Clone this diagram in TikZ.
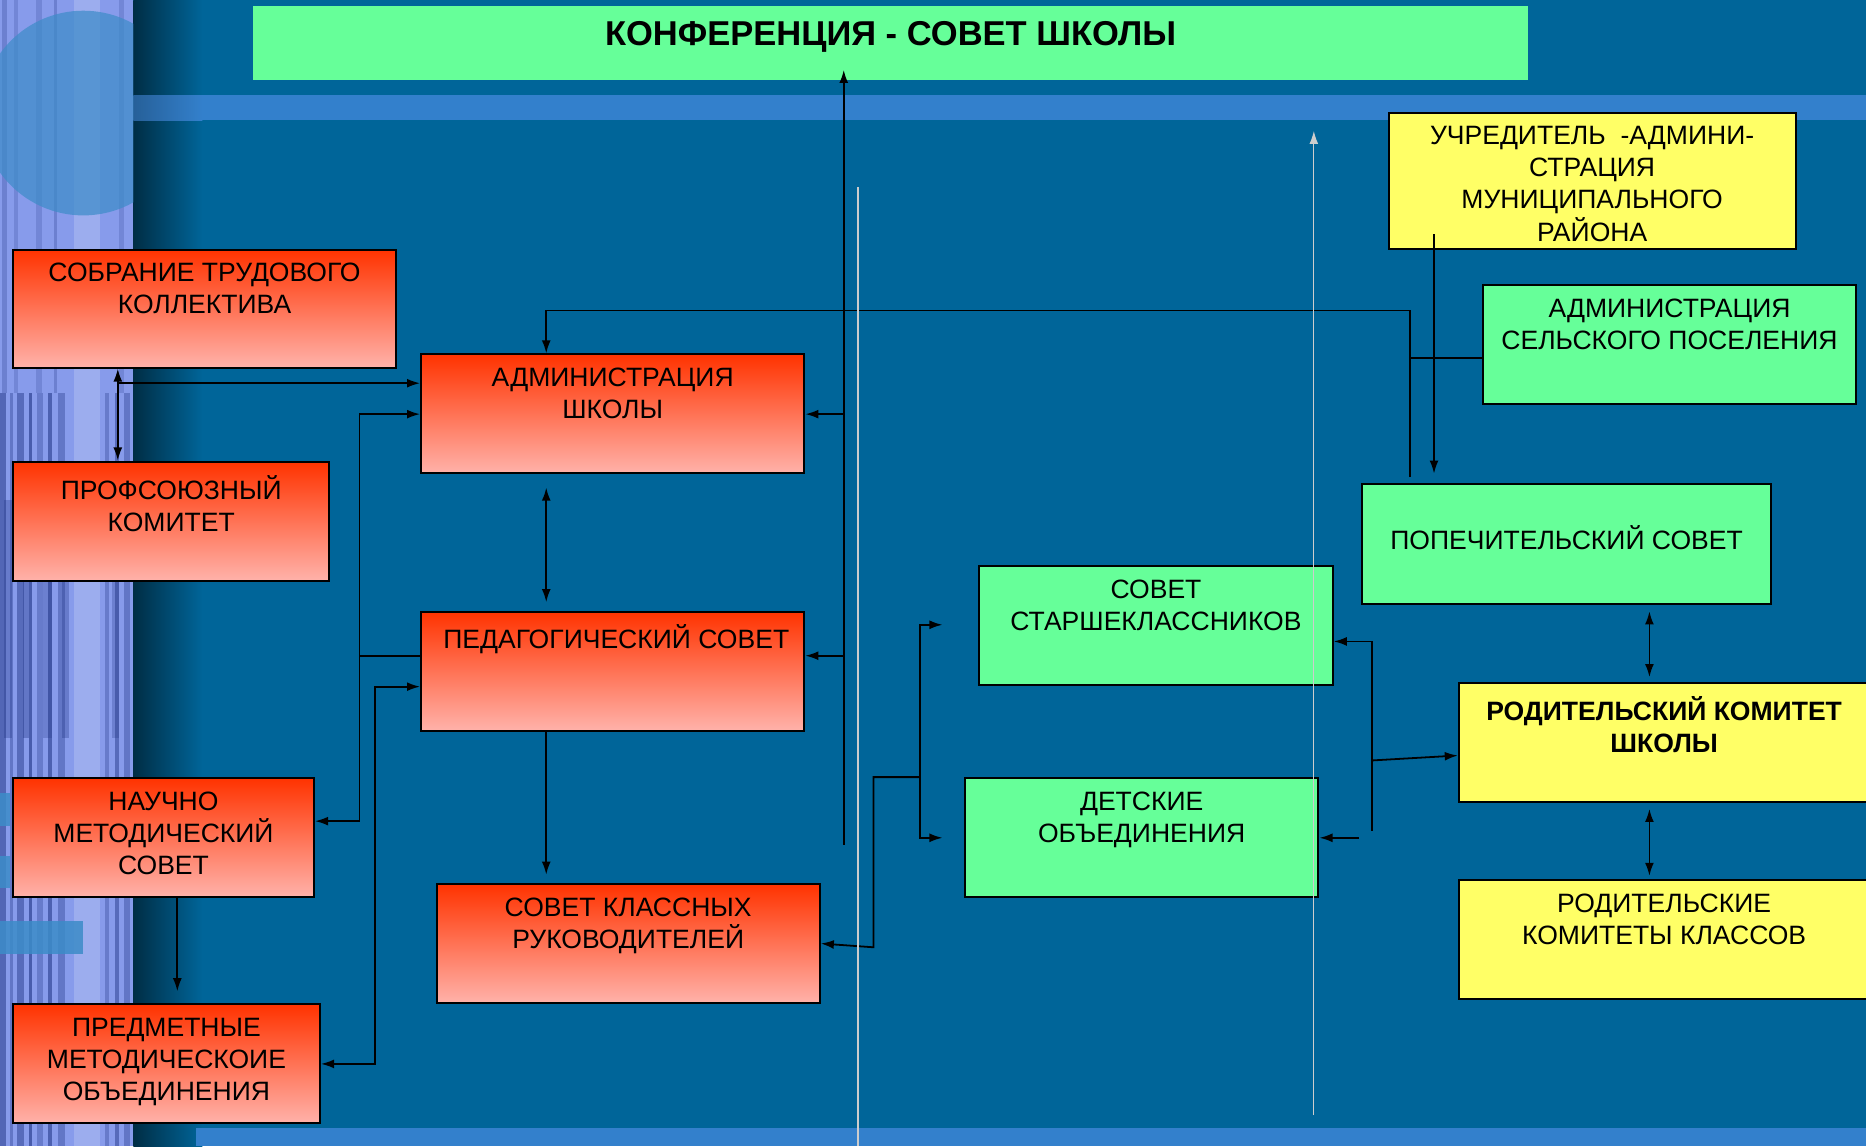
\documentclass[tikz,border=0pt]{standalone}
\usepackage{fontspec}
\setmainfont{Liberation Sans}
\usepackage{xcolor}
\usetikzlibrary{arrows.meta}

\definecolor{fon}{RGB}{0,101,153}
\definecolor{polosa}{RGB}{51,128,204}
\definecolor{krug}{RGB}{60,140,200}
\definecolor{lentaL}{RGB}{135,155,235}
\definecolor{lentaD}{RGB}{30,50,130}
\definecolor{zel}{RGB}{102,255,153}
\definecolor{zhel}{RGB}{255,255,102}
\definecolor{krasV}{RGB}{255,51,0}
\definecolor{krasN}{RGB}{255,178,170}
\definecolor{seryi}{RGB}{205,205,205}

\tikzset{
  box/.style={draw=black, line width=1.7pt, anchor=north west, inner sep=0pt},
  redbox/.style={box, top color=krasV, bottom color=krasN},
  grnbox/.style={box, fill=zel},
  ylwbox/.style={box, fill=zhel},
  txt/.style={anchor=north, yshift=-12pt, inner sep=0pt, align=center,
    font=\fontsize{22.3}{27}\selectfont},
  arr/.style={line width=1.5pt, -{Latex[length=11pt,width=7.5pt]}},
  dbl/.style={line width=1.5pt, {Latex[length=11pt,width=7.5pt]}-{Latex[length=11pt,width=7.5pt]}},
  link/.style={line width=1.5pt},
  greyline/.style={draw=seryi, line width=1.1pt}
}

\begin{document}
\begin{tikzpicture}[x=1pt, y=-1pt]

    \useasboundingbox (0,0) rectangle (1568,963);

    % фон
    \fill[fon] (0,0) rectangle (1568,963);
    \shade[left color=fon!45!black, right color=fon] (112,0) rectangle (170,963);

    % полосы
    \shade[left color=polosa!75!black, right color=polosa] (112,80) rectangle (170,101);
    \fill[polosa] (170,80) rectangle (1568,101);
    \fill[polosa] (165,948) rectangle (1568,963);

    % левая лента
    \fill[lentaL] (0,0) rectangle (112,963);
    \foreach \x/\w/\o in {0/5/.5, 8/3/.35, 14/6/.45, 24/3/.6, 31/5/.3, 40/4/.55, 49/6/.35, 88/4/.3, 97/3/.45, 104/5/.35}
      \fill[lentaD, opacity=\o] (\x,330) rectangle ++(\w,633);
    \foreach \x/\w/\o in {3/7/.3, 19/5/.35, 36/8/.25, 52/6/.3, 94/6/.25}
      \fill[lentaD, opacity=\o] (\x,420) rectangle ++(\w,200);
    \foreach \x/\w/\o in {2/4/.25, 12/3/.2, 30/5/.2, 45/3/.25, 100/4/.2}
      \fill[lentaD, opacity=\o] (\x,0) rectangle ++(\w,330);
    \fill[white, opacity=.18] (62,0) rectangle (84,963);
    \begin{scope}
      \clip (0,0) rectangle (112,963);
      \fill[krug, opacity=.7] (70,95) circle (86pt);
    \end{scope}
    \fill[krug, opacity=.85] (0,666) rectangle (8,694);
    \fill[krug, opacity=.85] (0,719) rectangle (8,746);
    \fill[krug, opacity=.85] (0,774) rectangle (70,802);

    % заголовок
    \node[box, draw=none, fill=zel, minimum width=1071pt, minimum height=62pt,
      label={[txt, yshift=-2pt, font=\bfseries\fontsize{29}{34}\selectfont]north:{КОНФЕРЕНЦИЯ - СОВЕТ ШКОЛЫ}}] (title) at (212,4) {};

    % левая колонка
    \node[redbox, minimum width=322pt, minimum height=99pt,
      label={[txt]north:{СОБРАНИЕ ТРУДОВОГО\\КОЛЛЕКТИВА}}] (sobr) at (10,209) {};
    \node[redbox, minimum width=266pt, minimum height=100pt,
      label={[txt]north:{ПРОФСОЮЗНЫЙ\\КОМИТЕТ}}] (prof) at (10,387) {};
    \node[redbox, minimum width=253pt, minimum height=100pt,
      label={[txt]north:{НАУЧНО\\МЕТОДИЧЕСКИЙ\\СОВЕТ}}] (nms) at (10,653) {};
    \node[redbox, minimum width=258pt, minimum height=100pt,
      label={[txt]north:{ПРЕДМЕТНЫЕ\\МЕТОДИЧЕСКОИЕ\\ОБЪЕДИНЕНИЯ}}] (pmo) at (10,843) {};

    % средняя колонка
    \node[redbox, minimum width=322pt, minimum height=100pt,
      label={[txt]north:{АДМИНИСТРАЦИЯ\\ШКОЛЫ}}] (adm) at (353,297) {};
    \node[redbox, minimum width=322pt, minimum height=100pt,
      label={[txt, xshift=3pt]north:{ПЕДАГОГИЧЕСКИЙ СОВЕТ}}] (ped) at (353,513) {};
    \node[redbox, minimum width=322pt, minimum height=100pt,
      label={[txt]north:{СОВЕТ КЛАССНЫХ\\РУКОВОДИТЕЛЕЙ}}] (skr) at (366,742) {};
    \node[grnbox, minimum width=297pt, minimum height=100pt,
      label={[txt]north:{СОВЕТ\\СТАРШЕКЛАССНИКОВ}}] (sst) at (822,475) {};
    \node[grnbox, minimum width=297pt, minimum height=100pt,
      label={[txt]north:{ДЕТСКИЕ\\ОБЪЕДИНЕНИЯ}}] (deo) at (810,653) {};

    % правая колонка
    \node[ylwbox, minimum width=342pt, minimum height=114pt,
      label={[txt]north:{УЧРЕДИТЕЛЬ~~-АДМИНИ-\\СТРАЦИЯ\\МУНИЦИПАЛЬНОГО\\РАЙОНА}}] (uch) at (1166,94) {};
    \node[grnbox, minimum width=314pt, minimum height=100pt,
      label={[txt]north:{АДМИНИСТРАЦИЯ\\СЕЛЬСКОГО ПОСЕЛЕНИЯ}}] (asp) at (1245,239) {};
    \node[grnbox, minimum width=343pt, minimum height=101pt,
      label={[txt, yshift=-23pt]north:{ПОПЕЧИТЕЛЬСКИЙ СОВЕТ}}] (pop) at (1144,406) {};
    \node[ylwbox, minimum width=345pt, minimum height=100pt,
      label={[txt, font=\bfseries\fontsize{22.3}{27}\selectfont]north:{РОДИТЕЛЬСКИЙ КОМИТЕТ\\ШКОЛЫ}}] (rk) at (1225,573) {};
    \node[ylwbox, minimum width=345pt, minimum height=100pt,
      label={[txt]north:{РОДИТЕЛЬСКИЕ\\КОМИТЕТЫ КЛАССОВ}}] (rkk) at (1225,739) {};

    % точки изломов
    \coordinate (ja) at (99,322);
    \coordinate (jb) at (302,348);
    \coordinate (jc) at (302,551);
    \coordinate (jd) at (302,690);
    \coordinate (je) at (315,577);
    \coordinate (jf) at (315,894);
    \coordinate (jg) at (709,710);
    \coordinate (jh) at (709,348);
    \coordinate (ji) at (709,551);
    \coordinate (jk) at (459,261);
    \coordinate (jl) at (149,753);
    \coordinate (jm) at (734,796);
    \coordinate (jn) at (734,653);
    \coordinate (jo) at (773,653);
    \coordinate (jp) at (773,525);
    \coordinate (jq) at (773,704);
    \coordinate (jr) at (1153,539);
    \coordinate (js) at (1153,698);
    \coordinate (jt) at (1153,639);
    \coordinate (ju) at (1142,704);
    \coordinate (jv) at (1205,197);
    \coordinate (jw) at (1185,401);
    \coordinate (jx) at (1185,261);
    \coordinate (jy) at (1185,301);
    \coordinate (jz) at (1386,540);

    % связи слева
    \draw[dbl] (sobr.south -| ja) -- (prof.north -| ja);
    \draw[arr] (ja) -- (ja -| adm.west);
    \draw[dbl] (jd -| nms.east) -- (jd) -- (jb) -- (jb -| adm.west);
    \draw[link] (jc) -- (jc -| ped.west);
    \draw[dbl] (jf -| pmo.east) -- (jf) -- (je) -- (je -| ped.west);
    \draw[arr, shorten >=10pt] (nms.south -| jl) -- (pmo.north -| jl);

    % администрация - педсовет - классные руководители
    \draw[dbl, shorten <=11pt, shorten >=7pt] (adm.south -| jk) -- (ped.north -| jk);
    \draw[arr, shorten >=7pt] (ped.south -| jk) -- (skr.north -| jk);

    % к конференции
    \draw[arr, shorten >=-9pt] (jg) -- (title.south -| jg);
    \draw[arr] (jh) -- (jh -| adm.east);
    \draw[arr] (ji) -- (ji -| ped.east);

    % ученики
    \draw[arr] (jo) -- (jn) -- (jm) -- (skr.east);
    \draw[dbl, shorten <=30pt, shorten >=18pt] (sst.west |- jp) -- (jp) -- (jq) -- (deo.west |- jq);

    % родители
    \draw[arr] (js) -- (jr) -- (jr -| sst.east);
    \draw[arr] (jt) -- ([yshift=-11pt]rk.west);
    \draw[arr] (ju) -- (ju -| deo.east);
    \draw[dbl, shorten <=5pt, shorten >=4pt] (pop.south -| jz) -- (rk.north -| jz);
    \draw[dbl, shorten <=5pt, shorten >=3pt] (rk.south -| jz) -- (rkk.north -| jz);

    % учредитель и поселение
    \draw[arr, shorten >=8pt] (jv) -- (jv |- pop.north);
    \draw[arr] (jw) -- (jx) -- (jk) -- (adm.north -| jk);
    \draw[link] (jy) -- (jy -| asp.west);

    % светлые линии
    \coordinate (ga) at (721,157);
    \coordinate (gb) at (721,963);
    \coordinate (gc) at (1104,937);
    \coordinate (gd) at (1104,110);
    \draw[greyline] (ga) -- (gb);
    \draw[greyline, -{Latex[length=11pt,width=7.5pt]}] (gc) -- (gd);

\end{tikzpicture}
\end{document}
